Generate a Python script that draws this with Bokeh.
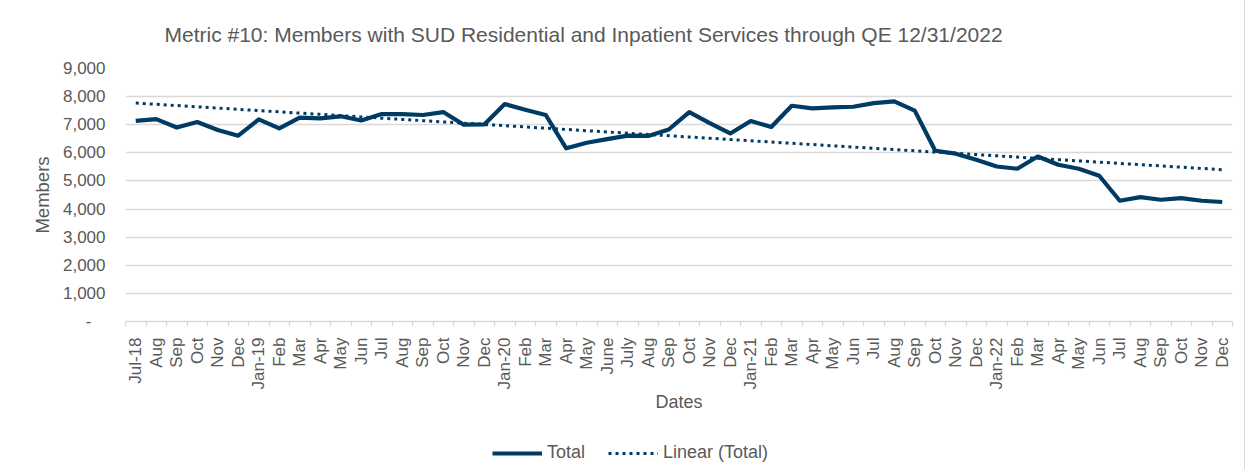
import numpy as np
from bokeh.plotting import figure
from bokeh.layouts import column
from bokeh.models import Range1d, FixedTicker, Legend, LegendItem, NumeralTickFormatter
from bokeh.embed import file_html
from bokeh.resources import INLINE

months = ["Jul-18", "Aug", "Sep", "Oct", "Nov", "Dec",
          "Jan-19", "Feb", "Mar", "Apr", "May", "Jun", "Jul", "Aug", "Sep", "Oct", "Nov", "Dec",
          "Jan-20", "Feb", "Mar", "Apr", "May", "June", "July", "Aug", "Sep", "Oct", "Nov", "Dec",
          "Jan-21", "Feb", "Mar", "Apr", "May", "Jun", "Jul", "Aug", "Sep", "Oct", "Nov", "Dec",
          "Jan-22", "Feb", "Mar", "Apr", "May", "Jun", "Jul", "Aug", "Sep", "Oct", "Nov", "Dec"]

total = [7140, 7200, 6900, 7095, 6810, 6610,
         7190, 6870, 7250, 7225, 7300, 7150, 7380, 7380, 7345, 7450, 7000, 7010,
         7735, 7530, 7345, 6160, 6360, 6490, 6610, 6600, 6830, 7450, 7060, 6690,
         7130, 6920, 7675, 7580, 7615, 7640, 7770, 7830, 7500, 6075, 5970, 5755,
         5515, 5435, 5870, 5575, 5435, 5185, 4295, 4425, 4330, 4390, 4295, 4250]

y_ticks = [0, 1000, 2000, 3000, 4000, 5000, 6000, 7000, 8000, 9000]

TXT = "#595959"
GRID = "#d9d9d9"
NAVY = "#003B64"
FONT = "Liberation Sans"

x = list(range(len(months)))
coef = np.polyfit(x, total, 1)
trend = list(np.polyval(coef, x))

p = figure(frame_width=1107, frame_height=253, output_backend="svg", toolbar_location=None,
           x_range=Range1d(-0.5, len(months) - 0.5), y_range=Range1d(0, 9000),
           min_border_left=125, min_border_right=12, min_border_top=68, min_border_bottom=110,
           title="Metric #10: Members with SUD Residential and Inpatient Services through QE 12/31/2022")
p.styles = {"box-shadow": "0 -1px 0 0 #d9d9d9, -1px 0 0 0 #d9d9d9, 1px 0 0 0 #d9d9d9"}

p.title.align = "left"
p.title.offset = 39
p.title.standoff = 42
p.title.vertical_align = "top"
p.title.text_font = FONT
p.title.text_font_size = "21px"
p.title.text_font_style = "normal"
p.title.text_color = TXT

p.outline_line_color = None
p.xgrid.grid_line_color = None
p.ygrid.grid_line_color = GRID
p.ygrid.grid_line_width = 1.3
p.ygrid.ticker = FixedTicker(ticks=y_ticks)

# y axis
p.yaxis.ticker = FixedTicker(ticks=y_ticks)
p.yaxis.formatter = NumeralTickFormatter(format="0,0")
p.yaxis.major_label_overrides = {0: "-\u00a0\u00a0\u00a0"}
p.yaxis.axis_line_color = None
p.yaxis.major_tick_line_color = None
p.yaxis.minor_tick_line_color = None
p.yaxis.major_tick_out = 0
p.yaxis.major_tick_in = 0
p.yaxis.major_label_standoff = 20
p.yaxis.major_label_text_font = FONT
p.yaxis.major_label_text_font_size = "17px"
p.yaxis.major_label_text_color = TXT
p.yaxis.axis_label = "Members"
p.yaxis.axis_label_text_font = FONT
p.yaxis.axis_label_text_font_size = "18.5px"
p.yaxis.axis_label_text_font_style = "normal"
p.yaxis.axis_label_text_color = TXT
p.yaxis.axis_label_standoff = 7

# x axis
p.xaxis.ticker = FixedTicker(ticks=x, minor_ticks=[i - 0.5 for i in range(len(months) + 1)])
p.xaxis.major_label_overrides = {i: m for i, m in enumerate(months)}
p.xaxis.major_label_orientation = np.pi / 2
p.xaxis.axis_line_color = GRID
p.xaxis.axis_line_width = 1.3
p.xaxis.major_tick_line_color = None
p.xaxis.major_tick_out = 0
p.xaxis.major_tick_in = 0
p.xaxis.minor_tick_line_color = GRID
p.xaxis.minor_tick_line_width = 1.3
p.xaxis.minor_tick_out = 5
p.xaxis.minor_tick_in = 0
p.xaxis.major_label_standoff = 11
p.xaxis.major_label_text_font = FONT
p.xaxis.major_label_text_font_size = "17px"
p.xaxis.major_label_text_color = TXT
p.xaxis.axis_label = "Dates"
p.xaxis.axis_label_text_font = FONT
p.xaxis.axis_label_text_font_size = "18px"
p.xaxis.axis_label_text_font_style = "normal"
p.xaxis.axis_label_text_color = TXT
p.xaxis.axis_label_standoff = 0

p.line(x, total, line_color=NAVY, line_width=4.2, line_join="round")
p.line(x, trend, line_color=NAVY, line_width=3, line_dash="3 4")

# legend strip below the chart (its lines lie outside its visible range; only the keys show)
p2 = figure(width=1244, height=38, output_backend="svg", toolbar_location=None,
            x_range=Range1d(-300, -200), y_range=Range1d(0, 9000),
            x_axis_type=None, y_axis_type=None, min_border=0)
p2.styles = {"box-shadow": "-1px 0 0 0 #d9d9d9, 1px 0 0 0 #d9d9d9"}
p2.outline_line_color = None
p2.grid.visible = False
k_total = p2.line(x, total, line_color=NAVY, line_width=4.2)
k_trend = p2.line(x, trend, line_color=NAVY, line_width=3, line_dash="3 4")

legend = Legend(items=[LegendItem(label="Total", renderers=[k_total]),
                       LegendItem(label="Linear (Total)", renderers=[k_trend])],
                orientation="horizontal", location=(367, 6),
                glyph_width=50, label_standoff=5, spacing=23,
                label_text_font=FONT, label_text_font_size="18px", label_text_color=TXT,
                border_line_color=None, background_fill_alpha=0, margin=0, padding=4)
p2.add_layout(legend, "center")

layout = column(p, p2, spacing=0)
open("out.html", "w").write(file_html(layout, INLINE))
